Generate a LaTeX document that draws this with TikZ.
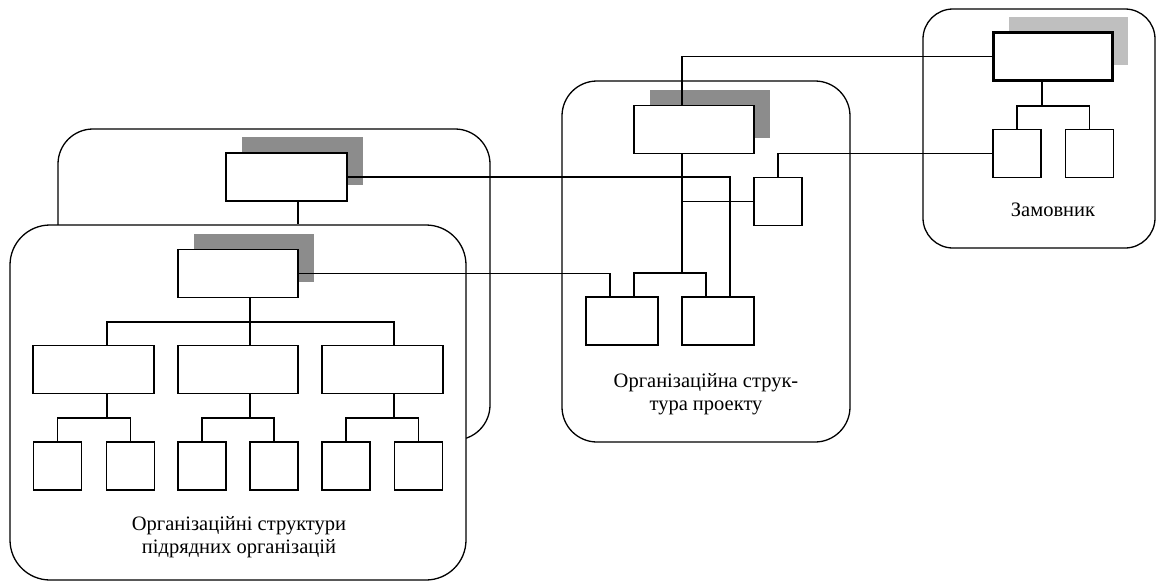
\documentclass[tikz,border=0pt]{standalone}
\usepackage{fontspec}
\setmainfont{Liberation Serif}
\usetikzlibrary{shadows}
\tikzstyle{panel} = [draw, rectangle, inner sep=0pt]
\tikzstyle{unit} = [draw, fill=white, rectangle, inner sep=0pt, minimum height=48pt]
\tikzstyle{unitshadow} = [general shadow={shadow xshift=16pt, shadow yshift=16pt, fill=black!45}]
\tikzstyle{caption} = [draw=none, align=center, font=\fontsize{20.5}{23.5}\selectfont]

\begin{document}
\begin{tikzpicture}[x=1pt, y=-1pt, line width=1.3pt]
\useasboundingbox (0,0) rectangle (1157,584);

% panels
\node[panel, minimum width=432pt, minimum height=311pt, rounded corners=35pt] (back) at (274,284.5) {};
\node[panel, fill=white, minimum width=456pt, minimum height=355pt, rounded corners=40pt] (front) at (238,402.5) {};
\node[panel, minimum width=288pt, minimum height=361pt, rounded corners=35pt] (prj) at (706,261.5) {};
\node[panel, minimum width=232pt, minimum height=239pt, rounded corners=30pt] (cst) at (1039,128.5) {};

% subcontractors
\node[unit, unitshadow, minimum width=121pt] (b1) at (286.5,177) {};
\node[unit, unitshadow, minimum width=120pt] (f1) at (238,273.5) {};
\node[unit, minimum width=121pt] (f2) at (93.5,369.5) {};
\node[unit, minimum width=120pt] (f3) at (238,369.5) {};
\node[unit, minimum width=121pt] (f4) at (382.5,369.5) {};
\foreach \n/\x in {5/57.5, 6/130.5, 7/202, 8/274, 9/346, 10/418.5}
  \node[unit, minimum width=48pt] (f\n) at (\x,466) {};

% project
\node[unit, unitshadow, minimum width=120pt] (p1) at (694,129.5) {};
\node[unit, minimum width=48pt] (p2) at (778,201.5) {};
\node[unit, minimum width=72pt] (p3) at (622,321) {};
\node[unit, minimum width=72pt] (p4) at (718,321) {};

% customer
\node[unit, line width=3pt, minimum width=119pt,
  general shadow={shadow xshift=16pt, shadow yshift=16pt, fill=black!25}] (c1) at (1052.5,56.5) {};
\node[unit, minimum width=48pt] (c2) at (1017,153.5) {};
\node[unit, minimum width=48pt] (c3) at (1089.5,153.5) {};

\node[caption] (tf) at (239,537) {Організаційні структури\\підрядних організацій};
\node[caption] (tp) at (706,394) {Організаційна струк-\\тура проекту};
\node[caption, anchor=base] (tc) at (1053,216) {Замовник};

\coordinate (pbus) at (682,273);
\coordinate (cbus) at (1042,106);
\coordinate (fbus) at (250,322);

\draw ([xshift=-12pt]p1.north) |- (c1.west);
\draw ([xshift=-10.5pt]c1.south) -- (cbus);
\draw (c2.north) |- (cbus) -| (c3.north);
\draw (c2.west) -| (p2.north);
\draw ([xshift=-12pt]p1.south) -- (pbus);
\draw (p2.west) -- (p2.west -| pbus);
\draw ([xshift=12pt]p3.north) |- (pbus) -| ([xshift=-12pt]p4.north);
\draw (b1.east) -| ([xshift=12pt]p4.north);
\draw (f1.east) -| ([xshift=-12pt]p3.north);
\draw ([xshift=11.5pt]b1.south) -- ([xshift=11.5pt]b1.south |- front.north);

\foreach \m/\a/\b/\x in {2/5/6/107, 3/7/8/250, 4/9/10/394} {
  \coordinate (g\m) at (\x,418);
  \draw (g\m |- f\m.south) -- (g\m);
  \draw (f\a.north) |- (g\m) -| (f\b.north);
}
\draw (g2 |- f2.north) |- (fbus) -| (g4 |- f4.north);
\draw (fbus) -- (g3 |- f3.north);
\draw (g3 |- f1.south) -- (fbus);

\end{tikzpicture}
\end{document}
